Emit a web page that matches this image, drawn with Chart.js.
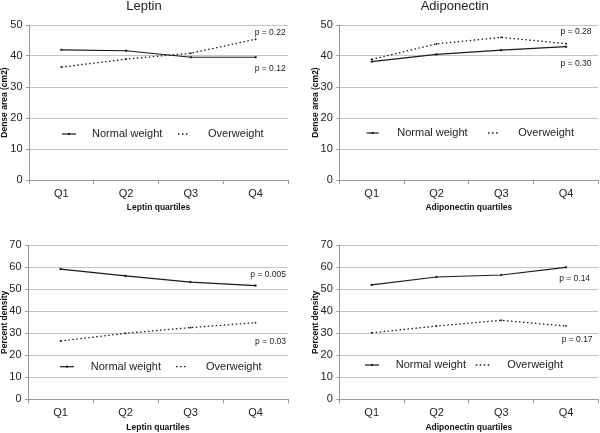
<!DOCTYPE html>
<html>
<head>
<meta charset="utf-8">
<script src="https://cdn.jsdelivr.net/npm/chart.js@4/dist/chart.umd.min.js"></script>
<style>
  html, body { margin: 0; padding: 0; background: #fff; }
  #wrap { position: relative; width: 600px; height: 433px; overflow: hidden; }
  canvas { position: absolute; }
</style>
</head>
<body>
<div id="wrap">
  <canvas id="c1" width="300" height="216" style="left:0;top:0"></canvas>
  <canvas id="c2" width="300" height="216" style="left:300px;top:0"></canvas>
  <canvas id="c3" width="300" height="217" style="left:0;top:216px"></canvas>
  <canvas id="c4" width="300" height="217" style="left:300px;top:216px"></canvas>
</div>
<script>
// ---- data ----
const quartileLabels = ['Q1', 'Q2', 'Q3', 'Q4'];
const seriesNames = ['Normal weight', 'Overweight'];

const leptinDenseNormal = [42.0, 41.7, 39.6, 39.6];
const leptinDenseOver   = [36.4, 39.0, 40.9, 45.4];
const adipoDenseNormal  = [38.2, 40.5, 41.9, 43.0];
const adipoDenseOver    = [38.9, 43.9, 46.0, 44.0];

const leptinPctNormal = [59.2, 56.1, 53.3, 51.7];
const leptinPctOver   = [26.5, 30.0, 32.6, 34.8];
const adipoPctNormal  = [52.0, 55.6, 56.5, 60.0];
const adipoPctOver    = [30.2, 33.3, 35.9, 33.3];

const leptinDenseP = ['p = 0.22', 'p = 0.12'];
const adipoDenseP  = ['p = 0.28', 'p = 0.30'];
const leptinPctP   = ['p = 0.005', 'p = 0.03'];
const adipoPctP    = ['p = 0.14', 'p = 0.17'];

const titles = ['Leptin', 'Adiponectin'];
const xTitles = ['Leptin quartiles', 'Adiponectin quartiles'];
const yTitles = ['Dense area (cm2)', 'Percent density'];

// ---- styling ----
const FONT = "'Liberation Sans', Arial, sans-serif";
const INK = '#1a1a1a';
const GRID = '#c4c4c4';
const AXIS = '#9a9a9a';

const annotPlugin = {
  id: 'annot',
  afterDatasetsDraw(chart, args, opts) {
    const ctx = chart.ctx;
    const xs = chart.scales.x, ys = chart.scales.y;
    ctx.save();
    ctx.fillStyle = '#222';
    ctx.font = '8.5px ' + FONT;
    ctx.textAlign = 'center';
    ctx.textBaseline = 'middle';
    (opts.pLabels || []).forEach(p => {
      ctx.fillText(p.text, xs.getPixelForValue(3) + p.dx, ys.getPixelForValue(p.v));
    });
    const lg = opts.legend;
    if (lg) {
      chart.data.datasets.forEach((ds, i) => {
        const it = lg.items[i];
        ctx.save();
        ctx.strokeStyle = ds.borderColor;
        ctx.lineWidth = ds.borderWidth;
        ctx.setLineDash(ds.borderDash || []);
        ctx.beginPath();
        ctx.moveTo(it.x0, lg.y);
        ctx.lineTo(it.x1, lg.y);
        ctx.stroke();
        ctx.setLineDash([]);
        if (!ds.borderDash) {
          ctx.fillStyle = ds.borderColor;
          const mx = (it.x0 + it.x1) / 2;
          ctx.fillRect(mx - 1, lg.y - 1, 2, 2);
        }
        ctx.fillStyle = '#222';
        ctx.font = '11px ' + FONT;
        ctx.textAlign = 'left';
        ctx.textBaseline = 'middle';
        ctx.fillText(ds.label, it.tx, lg.y);
        ctx.restore();
      });
    }
    ctx.restore();
  }
};

function makeChart(id, cfg) {
  const datasets = [
    { label: seriesNames[0], data: cfg.normal, borderColor: INK, backgroundColor: INK,
      borderWidth: 1.2, pointStyle: 'rect', pointRadius: 1.1, pointHoverRadius: 1.1, pointBorderWidth: 0.5, tension: 0 },
    { label: seriesNames[1], data: cfg.over, borderColor: INK, backgroundColor: INK,
      borderWidth: 1.3, borderDash: [1.5, 2.5], pointStyle: 'rect', pointRadius: 0.8, pointHoverRadius: 0.8, pointBorderWidth: 0.5, tension: 0 }
  ];
  return new Chart(document.getElementById(id), {
    type: 'line',
    data: { labels: quartileLabels, datasets },
    plugins: [annotPlugin],
    options: {
      responsive: false,
      animation: false,
      devicePixelRatio: 1,
      events: [],
      layout: { padding: cfg.padding },
      plugins: {
        legend: { display: false },
        tooltip: { enabled: false },
        title: cfg.title ? {
          display: true, text: cfg.title, color: '#222',
          font: { family: FONT, size: 13, weight: 'normal', lineHeight: 1 },
          padding: { top: 0, bottom: 12 }
        } : { display: false },
        annot: { pLabels: cfg.pLabels, legend: cfg.legend }
      },
      scales: {
        x: {
          type: 'category',
          offset: true,
          afterFit: s => { s.height = cfg.xHeight; },
          grid: { offset: true, drawOnChartArea: false, drawTicks: true, tickLength: 4, color: AXIS, lineWidth: 1 },
          border: { display: true, color: AXIS, width: 1 },
          ticks: { color: '#222', font: { family: FONT, size: 11 }, padding: 3, maxRotation: 0 },
          title: { display: true, text: cfg.xTitle, color: '#111',
                   font: { family: FONT, size: 8.5, weight: 'bold' }, padding: { top: 0, bottom: cfg.xTitlePad } }
        },
        y: {
          min: 0, max: cfg.yMax,
          afterFit: s => { s.width = cfg.yWidth; },
          ticks: { stepSize: 10, color: '#222', font: { family: FONT, size: 11 }, padding: 3.5 },
          grid: { color: GRID, lineWidth: 1, tickLength: 3, tickColor: AXIS },
          border: { display: true, color: AXIS, width: 1 },
          title: { display: true, text: cfg.yTitle, color: '#111',
                   font: { family: FONT, size: 8.5, weight: 'bold', lineHeight: 1.1 }, padding: { top: cfg.yTitlePad, bottom: 0 } }
        }
      }
    }
  });
}

makeChart('c1', {
  normal: leptinDenseNormal, over: leptinDenseOver, yMax: 50,
  title: titles[0], xTitle: xTitles[0], yTitle: yTitles[0],
  padding: { left: 0, right: 12, top: 0, bottom: 0 },
  yWidth: 29, xHeight: 36, xTitlePad: 3, yTitlePad: 0,
  pLabels: [{ text: leptinDenseP[0], dx: 14.5, v: 47.6 }, { text: leptinDenseP[1], dx: 14.5, v: 36.0 }],
  legend: { y: 134, items: [{ x0: 62, x1: 76, tx: 92 }, { x0: 178, x1: 190, tx: 208 }] }
});

makeChart('c2', {
  normal: adipoDenseNormal, over: adipoDenseOver, yMax: 50,
  title: titles[1], xTitle: xTitles[1], yTitle: yTitles[0],
  padding: { left: 10, right: 0.7, top: 0, bottom: 0 },
  yWidth: 29.3, xHeight: 36, xTitlePad: 3, yTitlePad: 0.5,
  pLabels: [{ text: adipoDenseP[0], dx: 10, v: 47.8 }, { text: adipoDenseP[1], dx: 10, v: 37.6 }],
  legend: { y: 133, items: [{ x0: 66.7, x1: 78.7, tx: 97.3 }, { x0: 188, x1: 199, tx: 218.3 }] }
});

makeChart('c3', {
  normal: leptinPctNormal, over: leptinPctOver, yMax: 70,
  title: null, xTitle: xTitles[0], yTitle: yTitles[1],
  padding: { left: 0, right: 12, top: 29.3, bottom: 0 },
  yWidth: 28, xHeight: 33.7, xTitlePad: 0, yTitlePad: 0,
  pLabels: [{ text: leptinPctP[0], dx: 12.7, v: 56.6 }, { text: leptinPctP[1], dx: 15, v: 26.0 }],
  legend: { y: 150.7, items: [{ x0: 60, x1: 74, tx: 90.7 }, { x0: 176, x1: 188, tx: 206 }] }
});

makeChart('c4', {
  normal: adipoPctNormal, over: adipoPctOver, yMax: 70,
  title: null, xTitle: xTitles[1], yTitle: yTitles[1],
  padding: { left: 10, right: 0.7, top: 29.3, bottom: 0 },
  yWidth: 29.3, xHeight: 33.7, xTitlePad: 0, yTitlePad: 0.5,
  pLabels: [{ text: adipoPctP[0], dx: 8.6, v: 54.8 }, { text: adipoPctP[1], dx: 11.1, v: 27.3 }],
  legend: { y: 149, items: [{ x0: 65, x1: 79, tx: 95.7 }, { x0: 175.7, x1: 190, tx: 207.3 }] }
});
</script>
</body>
</html>
